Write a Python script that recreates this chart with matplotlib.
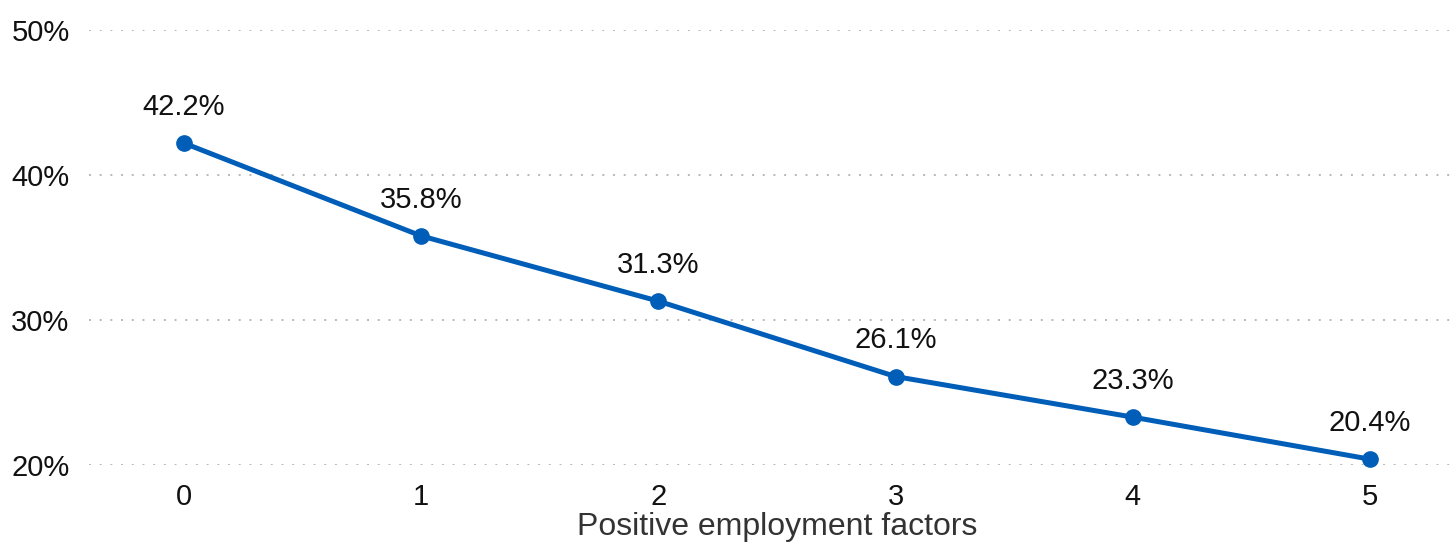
import matplotlib
matplotlib.use('Agg')
import matplotlib.pyplot as plt
from matplotlib.ticker import FuncFormatter

factors = [0, 1, 2, 3, 4, 5]
rates = [42.2, 35.8, 31.3, 26.1, 23.3, 20.4]
y_ticks = [20, 30, 40, 50]

plt.rcParams['font.family'] = ['Liberation Sans', 'DejaVu Sans']

fig = plt.figure(figsize=(14.54, 5.42), dpi=100)
# axes run a little past the right edge of the figure, like the original
ax = fig.add_axes([89 / 1454, 77 / 542, 1376 / 1454, 435 / 542])

# Line with dots
ax.plot(factors, rates, color='#005EB8', linewidth=3.6, marker='o',
        markersize=11, zorder=3, clip_on=False)

# Value labels above each point
for x, y in zip(factors, rates):
    ax.annotate('{:.1f}%'.format(y), (x, y), xytext=(0, 16),
                textcoords='offset points', ha='center', va='bottom',
                fontsize=21, color='#111111')

# Axes
ax.set_xlim(-0.4, 5.4)
ax.set_ylim(20, 50)
ax.set_xticks(factors)
ax.set_yticks(y_ticks)
ax.yaxis.set_major_formatter(FuncFormatter(lambda v, p: '{:.0f}%'.format(v)))
ax.tick_params(axis='both', length=0, labelsize=21, colors='#111111')
ax.tick_params(axis='y', pad=14)
ax.tick_params(axis='x', pad=13)
ax.set_xlabel('Positive employment factors', fontsize=23, color='#333333', labelpad=1)

# Grid
ax.grid(axis='y', color='#b8b8b8', linestyle=(0, (1, 4.5)), linewidth=1.4)
ax.set_axisbelow(True)
for s in ax.spines.values():
    s.set_visible(False)

fig.savefig('out.png', dpi=100)
